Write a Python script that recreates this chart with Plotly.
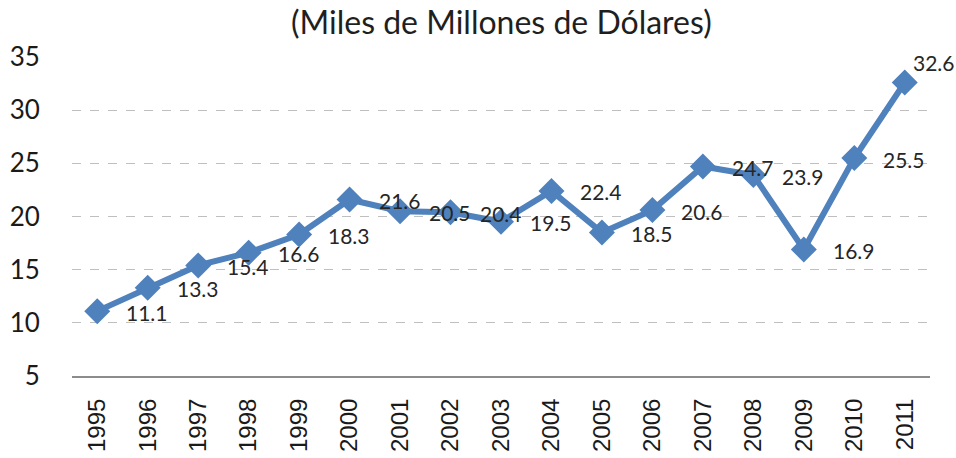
import plotly.graph_objects as go

years = ["1995", "1996", "1997", "1998", "1999", "2000", "2001", "2002", "2003",
         "2004", "2005", "2006", "2007", "2008", "2009", "2010", "2011"]
values = [11.1, 13.3, 15.4, 16.6, 18.3, 21.6, 20.5, 20.4, 19.5,
          22.4, 18.5, 20.6, 24.7, 23.9, 16.9, 25.5, 32.6]
y_ticks = [5, 10, 15, 20, 25, 30, 35]
title_text = "(Miles de Millones de Dólares)"

BLUE = "#4F81BD"
idx = list(range(len(years)))

fig = go.Figure()
fig.add_trace(go.Scatter(
    x=idx, y=values, mode="lines+markers",
    line=dict(color=BLUE, width=6),
    marker=dict(symbol="diamond", size=20, color=BLUE),
    showlegend=False, hoverinfo="skip",
))

annotations = []
for i, v in zip(idx, values):
    last = i == len(years) - 1
    annotations.append(dict(
        x=i, y=v, xref="x", yref="y", text=f"{v:.1f}", showarrow=False,
        xshift=29 if last else 50, yshift=20 if last else -1,
        font=dict(family="Lato", size=21, color="#262626"),
    ))
annotations.append(dict(
    x=0.5, y=1, xref="paper", yref="paper", yanchor="bottom", yshift=14,
    text=title_text, showarrow=False,
    font=dict(family="Lato", size=32, color="#1F1F1F"),
))

fig.update_layout(
    width=956, height=458,
    margin=dict(l=72, r=26, t=57, b=82),
    paper_bgcolor="white", plot_bgcolor="white",
    annotations=annotations,
    xaxis=dict(
        range=[-0.5, 16.5], tickvals=idx, ticktext=years, tickangle=-90,
        showgrid=False, showline=True, linecolor="#8C8C8C", linewidth=2,
        zeroline=False, automargin=False,
        ticks="outside", ticklen=11, tickcolor="rgba(0,0,0,0)",
        tickfont=dict(family="Liberation Sans", size=24, color="#1A1A1A"),
        fixedrange=True,
    ),
    yaxis=dict(
        range=[5, 35], tickvals=y_ticks, showgrid=True,
        gridcolor="#BFBFBF", gridwidth=1.2, griddash="dash",
        zeroline=False, showline=False, automargin=False,
        ticks="outside", ticklen=26, tickcolor="rgba(0,0,0,0)",
        tickfont=dict(family="Lato", size=26, color="#1A1A1A"),
        fixedrange=True,
    ),
)

fig.write_html("out.html", config={"displayModeBar": False},
               post_script="document.body.style.margin='0';document.body.style.overflow='hidden';")
